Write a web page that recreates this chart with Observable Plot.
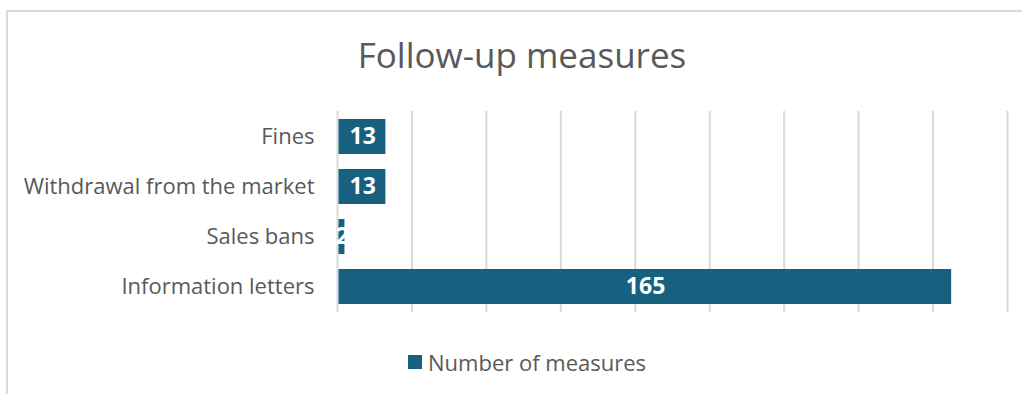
<!DOCTYPE html>
<html>
<head>
<meta charset="utf-8">
<script src="https://cdn.jsdelivr.net/npm/d3@7"></script>
<script src="https://cdn.jsdelivr.net/npm/@observablehq/plot@0.6"></script>
<style>
  html, body { margin: 0; padding: 0; background: #fff; }
  #wrap { position: relative; width: 1022px; height: 394px; overflow: hidden; font-family: "Open Sans", "Noto Sans", sans-serif; }
  #frame { position: absolute; left: 6px; top: 10px; width: 1030px; height: 400px; border: 2px solid #d9d9d9; box-sizing: border-box; }
  #title { position: absolute; left: 11px; width: 1022px; top: 31px; line-height: 48px; text-align: center; font-size: 35px; color: #595959; }
  #chart { position: absolute; left: 0; top: 0; }
  #legend { position: absolute; left: 408px; top: 347px; font-size: 22px; color: #595959; display: flex; align-items: center; }
  #legend .sw { width: 14px; height: 14px; background: #17607f; margin-right: 6px; }
</style>
</head>
<body>
<div id="wrap">
  <div id="frame"></div>
  <div id="chart"></div>
  <div id="title">Follow-up measures</div>
  <div id="legend"><span class="sw"></span><span>Number of measures</span></div>
</div>
<script>
const categories = ["Fines", "Withdrawal from the market", "Sales bans", "Information letters"];
const values = [13, 13, 2, 165];
const xTicks = [0, 20, 40, 60, 80, 100, 120, 140, 160, 180];
const seriesName = "Number of measures";

const data = categories.map((c, i) => ({category: c, value: values[i]}));

const plot = Plot.plot({
  width: 1022,
  height: 394,
  marginTop: 111,
  marginBottom: 82,
  marginLeft: 337,
  marginRight: 15,
  style: {fontFamily: "'Open Sans', 'Noto Sans', sans-serif", background: "transparent"},
  x: {domain: [0, 180], axis: null},
  y: {domain: categories, paddingInner: 0.3, paddingOuter: 0.15, label: null, tickSize: 0, tickPadding: 23},
  marks: [
    Plot.gridX(xTicks, {stroke: "#d9d9d9", strokeOpacity: 1, strokeWidth: 2}),
    Plot.barX(data, {x1: 0, x2: "value", y: "category", fill: "#17607f", insetLeft: 1.5}),
    Plot.axisY({tickSize: 0, tickPadding: 23, fontSize: 22, fill: "#595959", label: null}),
    Plot.text(data, {x: d => d.value / 2, y: "category", text: d => String(d.value), fill: "white", fontSize: 23, fontWeight: "bold", dx: 1})
  ]
});
document.getElementById("chart").appendChild(plot);
</script>
</body>
</html>
